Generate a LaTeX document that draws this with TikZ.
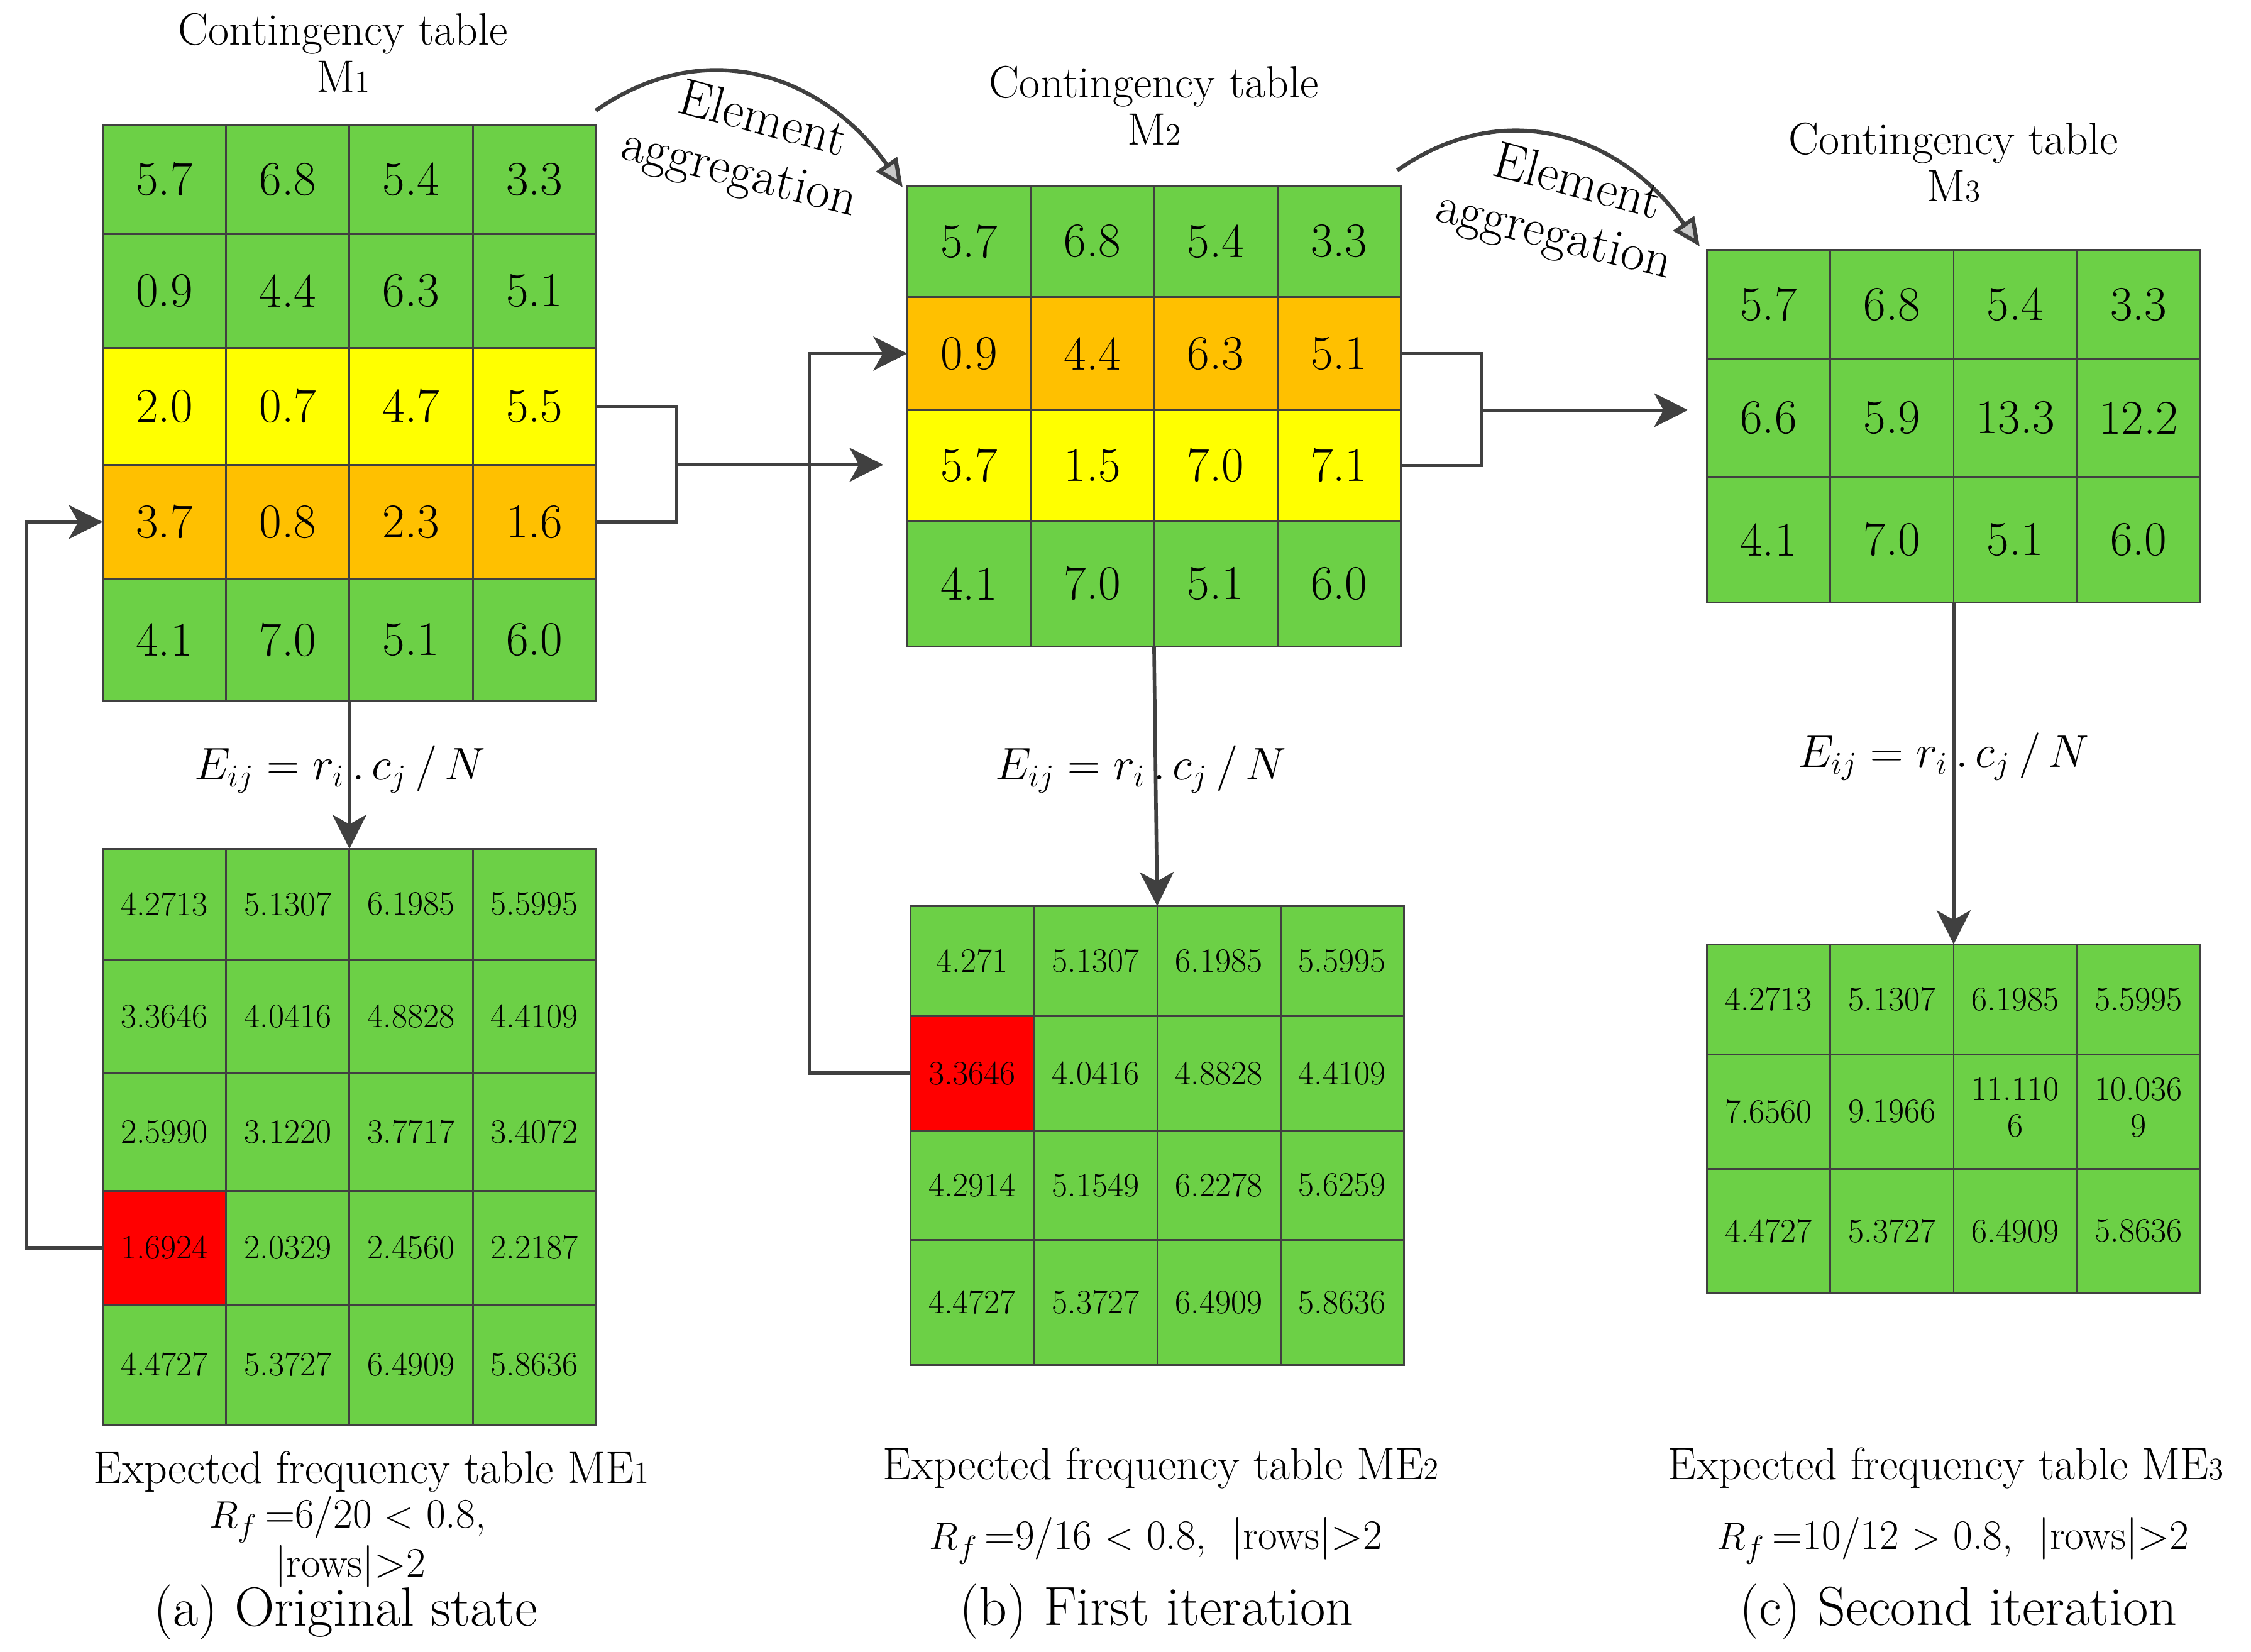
\documentclass[tikz,border=0pt]{standalone}
\usepackage{amsmath}
\usetikzlibrary{matrix, positioning, arrows.meta}

\definecolor{cellgreen}{RGB}{108,208,70}
\definecolor{rowyellow}{RGB}{255,255,0}
\definecolor{roworange}{RGB}{255,192,0}
\definecolor{cellred}{RGB}{255,0,0}
\definecolor{linegray}{RGB}{64,64,64}
\definecolor{headgray}{RGB}{200,200,200}

\newcommand{\subdig}[1]{{\fontsize{14}{14}\selectfont #1}}

\begin{document}
\begin{tikzpicture}[
    cell/.style={draw=linegray, line width=0.8pt, fill=cellgreen, minimum width=1.9625cm,
        inner sep=0pt, outer sep=0pt, anchor=center, font=\fontsize{22}{22}\selectfont},
    ctable/.style={matrix of nodes, inner sep=0pt, outer sep=0pt, column sep=-0.8pt, row sep=-0.8pt,
        nodes={cell, minimum height=1.83cm}},
    etable/.style={ctable, nodes={font=\fontsize{15.5}{16.5}\selectfont}},
    tabtitle/.style={align=center, inner sep=0pt, outer sep=0pt, font=\fontsize{20.5}{21.6}\selectfont},
    formula/.style={inner sep=0pt, anchor=base, font=\fontsize{19.5}{24}\selectfont},
    captext/.style={inner sep=0pt, anchor=base, font=\fontsize{20.5}{22}\selectfont},
    rftext/.style={inner sep=0pt, anchor=base, font=\fontsize{19}{22}\selectfont},
    subcap/.style={inner sep=0pt, anchor=base, font=\fontsize{25}{28}\selectfont},
    aggtext/.style={inner sep=0pt, font=\fontsize{23.5}{24}\selectfont},
    conn/.style={draw=linegray, line width=1.6pt},
    flow/.style={conn, -{Stealth[length=5.4mm, width=5.4mm, inset=1.5mm]}},
    agg/.style={draw=linegray, line width=1.8pt, -{Triangle[length=4.5mm, width=4mm, fill=headgray]}}
]
    \useasboundingbox (0,0) rectangle (35.81,-26.28);

    % Contingency table M1
    \matrix (m1) [ctable, anchor=north west,
        row 1/.style={nodes={minimum height=1.74cm}},
        row 2/.style={nodes={minimum height=1.81cm}},
        row 3/.style={nodes={fill=rowyellow, minimum height=1.86cm}},
        row 4/.style={nodes={fill=roworange, minimum height=1.82cm}},
        row 5/.style={nodes={minimum height=1.93cm}}] at (1.62,-1.97) {
        5.7 & 6.8 & 5.4 & 3.3 \\
        0.9 & 4.4 & 6.3 & 5.1 \\
        2.0 & 0.7 & 4.7 & 5.5 \\
        3.7 & 0.8 & 2.3 & 1.6 \\
        4.1 & 7.0 & 5.1 & 6.0 \\
    };
    \node[tabtitle, above=0.5cm of m1, xshift=-0.1cm] (t1) {Contingency table\\M\subdig{1}};

    % Expected frequency table ME1
    \matrix (me1) [etable, below=2.33cm of m1,
        row 1/.style={nodes={minimum height=1.76cm}},
        row 2/.style={nodes={minimum height=1.81cm}},
        row 3/.style={nodes={minimum height=1.87cm}},
        row 4/.style={nodes={minimum height=1.81cm}},
        row 5/.style={nodes={minimum height=1.91cm}},
        row 4 column 1/.style={nodes={fill=cellred}}] {
        4.2713 & 5.1307 & 6.1985 & 5.5995 \\
        3.3646 & 4.0416 & 4.8828 & 4.4109 \\
        2.5990 & 3.1220 & 3.7717 & 3.4072 \\
        1.6924 & 2.0329 & 2.4560 & 2.2187 \\
        4.4727 & 5.3727 & 6.4909 & 5.8636 \\
    };

    % Contingency table M2
    \matrix (m2) [ctable, anchor=north west,
        row 1/.style={nodes={minimum height=1.77cm}},
        row 2/.style={nodes={fill=roworange, minimum height=1.80cm}},
        row 3/.style={nodes={fill=rowyellow, minimum height=1.76cm}},
        row 4/.style={nodes={minimum height=2.00cm}}] at (14.42,-2.94) {
        5.7 & 6.8 & 5.4 & 3.3 \\
        0.9 & 4.4 & 6.3 & 5.1 \\
        5.7 & 1.5 & 7.0 & 7.1 \\
        4.1 & 7.0 & 5.1 & 6.0 \\
    };
    \node[tabtitle, above=0.63cm of m2] (t2) {Contingency table\\M\subdig{2}};

    % Expected frequency table ME2
    \matrix (me2) [etable, below=4.10cm of m2, xshift=0.05cm,
        row 1/.style={nodes={minimum height=1.75cm}},
        row 2/.style={nodes={minimum height=1.82cm}},
        row 3/.style={nodes={minimum height=1.74cm}},
        row 4/.style={nodes={minimum height=1.99cm}},
        row 2 column 1/.style={nodes={fill=cellred}}] {
        4.271 & 5.1307 & 6.1985 & 5.5995 \\
        3.3646 & 4.0416 & 4.8828 & 4.4109 \\
        4.2914 & 5.1549 & 6.2278 & 5.6259 \\
        4.4727 & 5.3727 & 6.4909 & 5.8636 \\
    };

    % Contingency table M3
    \matrix (m3) [ctable, anchor=north west,
        row 1/.style={nodes={minimum height=1.74cm}},
        row 2/.style={nodes={minimum height=1.87cm}},
        row 3/.style={nodes={minimum height=2.00cm}}] at (27.14,-3.96) {
        5.7 & 6.8 & 5.4 & 3.3 \\
        6.6 & 5.9 & 13.3 & 12.2 \\
        4.1 & 7.0 & 5.1 & 6.0 \\
    };
    \node[tabtitle, above=0.74cm of m3] (t3) {Contingency table\\M\subdig{3}};

    % Expected frequency table ME3
    \matrix (me3) [etable, below=5.41cm of m3,
        row 1/.style={nodes={minimum height=1.75cm}},
        row 2/.style={nodes={minimum height=1.82cm}},
        row 3/.style={nodes={minimum height=1.98cm}}] {
        4.2713 & 5.1307 & 6.1985 & 5.5995 \\
        7.6560 & 9.1966 & {\begin{tabular}{@{}c@{}}11.110\\6\end{tabular}} & {\begin{tabular}{@{}c@{}}10.036\\9\end{tabular}} \\
        4.4727 & 5.3727 & 6.4909 & 5.8636 \\
    };

    % Formulas
    \node[formula] (f1) at (5.41,-12.41) {$E_{ij} = r_{i}\,.\,c_{j}\,/\,N$};
    \node[formula] (f2) at (18.15,-12.41) {$E_{ij} = r_{i}\,.\,c_{j}\,/\,N$};
    \node[formula] (f3) at (30.92,-12.21) {$E_{ij} = r_{i}\,.\,c_{j}\,/\,N$};

    % Captions
    \node[captext] (exp1) at (5.91,-23.59) {Expected frequency table ME\subdig{1}};
    \node[rftext] (rf1) at (5.53,-24.30) {$R_{f}$\,=6/20 $<$ 0.8,};
    \node[rftext] (rows1) at (5.57,-25.08) {|rows|>2};
    \node[subcap] (sub1) at (5.50,-25.86) {(a) Original state};
    \node[captext] (exp2) at (18.47,-23.53) {Expected frequency table ME\subdig{2}};
    \node[rftext] (rf2) at (18.39,-24.64) {$R_{f}$\,=9/16 $<$ 0.8,\ \ |rows|>2};
    \node[subcap] (sub2) at (18.40,-25.85) {(b) First iteration};
    \node[captext] (exp3) at (30.96,-23.53) {Expected frequency table ME\subdig{3}};
    \node[rftext] (rf3) at (31.07,-24.64) {$R_{f}$\,=10/12 $>$ 0.8,\ \ |rows|>2};
    \node[subcap] (sub3) at (31.15,-25.85) {(c) Second iteration};

    % Expected frequencies
    \draw[flow] (m1-5-2.south east) -- (me1-1-2.north east);
    \draw[flow] (m2-4-2.south east) -- (me2-1-2.north east);
    \draw[flow] (m3-3-2.south east) -- (me3-1-2.north east);

    % Feedback of the smallest cell
    \draw[flow] (me1-4-1.west) -- ++(-1.22,0) |- (m1-4-1.west);
    \draw[flow] (me2-2-1.west) -- ++(-1.61,0) |- (m2-2-1.west);

    % Row merging
    \draw[conn] (m1-3-4.east) -- ++(1.28,0) coordinate (brk1top) |- (m1-4-4.east);
    \coordinate (brk1) at (brk1top |- m1-3-4.south);
    \coordinate (in2) at ([xshift=-3.8mm]m2-3-1.west);
    \draw[flow] (brk1) -- (brk1 -| in2);
    \draw[conn] (m2-2-4.east) -- ++(1.28,0) coordinate (brk2top) |- (m2-3-4.east);
    \coordinate (brk2) at (brk2top |- m2-2-4.south);
    \coordinate (in3) at ([xshift=-3mm]m3-2-1.west);
    \draw[flow] (brk2) -- (brk2 -| in3);

    % Element aggregation
    \draw[agg] ([shift={(-0.02,0.21)}]m1.north east) to[out=35, in=125, looseness=1.1] ([shift={(-0.06,-0.04)}]m2.north west);
    \node[aggtext, rotate=-15] (el1) at (12.14,-1.86) {Element};
    \node[aggtext, rotate=-14] (ag1) at (11.75,-2.80) {aggregation};
    \draw[agg] ([shift={(-0.07,0.23)}]m2.north east) to[out=35, in=125, looseness=1.1] ([shift={(-0.10,0.04)}]m3.north west);
    \node[aggtext, rotate=-15] (el2) at (25.10,-2.86) {Element};
    \node[aggtext, rotate=-14] (ag2) at (24.71,-3.79) {aggregation};
\end{tikzpicture}
\end{document}
